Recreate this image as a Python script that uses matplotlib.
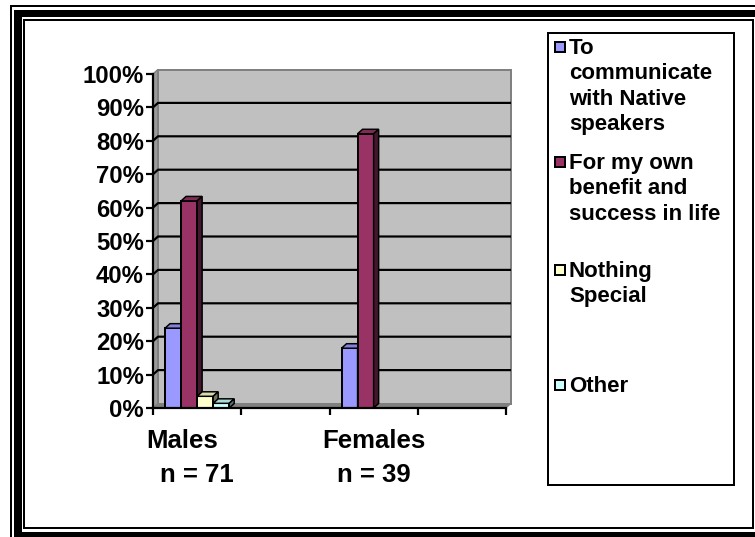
import numpy as np
import matplotlib
matplotlib.use("Agg")
import matplotlib.pyplot as plt
from matplotlib.patches import Rectangle, Polygon

# ---- data -------------------------------------------------------------
categories = ["Males", "", "Females", ""]
sample_sizes = ["n = 71", "", "n = 39", ""]

series_names = [
    "To\ncommunicate\nwith Native\nspeakers",
    "For my own\nbenefit and\nsuccess in life",
    "Nothing\nSpecial",
    "Other",
]
communicate = [0.239, np.nan, 0.179, np.nan]
own_benefit = [0.620, np.nan, 0.821, np.nan]
nothing_special = [0.035, np.nan, np.nan, np.nan]
other = [0.014, np.nan, np.nan, np.nan]
series_values = [communicate, own_benefit, nothing_special, other]

y_ticks = [i / 10 for i in range(11)]
y_tick_labels = [f"{i * 10}%" for i in range(11)]

# ---- styling ----------------------------------------------------------
W, H = 755, 537
DPI = 100
FONT = "Liberation Sans"
face_colors = ["#9999FF", "#993366", "#FFFFCC", "#CCFFFF"]


def shade(hex_color, f):
    rgb = np.array(matplotlib.colors.to_rgb(hex_color))
    return tuple(np.clip(rgb * f, 0, 1))


def px(v):  # pixels -> points
    return v * 72 / DPI


fig = plt.figure(figsize=(W / DPI, H / DPI), dpi=DPI, facecolor="white")

# background canvas in pixel coordinates for the frame and legend
bg = fig.add_axes([0, 0, 1, 1], zorder=0)
bg.set_xlim(0, W)
bg.set_ylim(H, 0)
bg.axis("off")

# double border: thin outer line, thick band, thin inner line
bg.plot([11, 11, W + 5], [H + 5, 6, 6], color="black", lw=px(2), solid_joinstyle="miter")
bg.add_patch(Rectangle((14, 10), 8, H, color="black", lw=0))
bg.add_patch(Rectangle((14, 10), W, 7, color="black", lw=0))
bg.add_patch(Rectangle((14, 532), W, 10, color="black", lw=0))
bg.add_patch(Rectangle((24, 20), 729, 508, fill=False, ec="black", lw=px(2)))

# ---- plot area (front plane of the 3-D chart) --------------------------
left_px, right_px, bottom_px, top_px = 153, 506, 408, 74
ax = fig.add_axes([left_px / W, 1 - bottom_px / H,
                   (right_px - left_px) / W, (bottom_px - top_px) / H], zorder=2)
n_cat = len(categories)
ax.set_xlim(0, n_cat)
ax.set_ylim(0, 1)
ax.patch.set_visible(False)

# depth offset of walls and columns (in data units)
depth_px = (5, 4.5)
dx = depth_px[0] / (right_px - left_px) * n_cat
dy = depth_px[1] / (bottom_px - top_px)

# walls and floor
ax.add_patch(Polygon([(0, 0), (dx, dy), (dx, 1 + dy), (0, 1)], closed=True,
                     fc="#9A9A9A", ec="#808080", lw=px(1.5), clip_on=False, zorder=0.5))
ax.add_patch(Rectangle((dx, dy), n_cat, 1, fc="#C0C0C0", ec="#808080",
                       lw=px(2), clip_on=False, zorder=0.6))
ax.add_patch(Polygon([(0, 0), (n_cat, 0), (n_cat + dx, dy), (dx, dy)], closed=True,
                     fc="#808080", ec="#808080", lw=px(1), clip_on=False, zorder=0.7))

# gridlines on side and back walls
for yv in y_ticks[1:-1]:
    ax.plot([0, dx, n_cat + dx], [yv, yv + dy, yv + dy], color="black",
            lw=px(2.2), clip_on=False, zorder=0.8, solid_capstyle="butt")

# columns
n_ser = len(series_values)
bar_w = 16 / 88
z = 1.0
for ci in range(n_cat):
    for si, vals in enumerate(series_values):
        v = vals[ci]
        if np.isnan(v):
            continue
        x0 = ci + 0.5 - n_ser * bar_w / 2 + si * bar_w
        bars = ax.bar(x0, v, width=bar_w, align="edge", color=face_colors[si],
                      edgecolor="black", lw=px(2), zorder=z, clip_on=False)
        r = bars.patches[0]
        bx, bwid, bh = r.get_x(), r.get_width(), r.get_height()
        x1 = bx + bwid
        ax.add_patch(Polygon([(bx, bh), (bx + dx, bh + dy), (x1 + dx, bh + dy), (x1, bh)],
                             closed=True, fc=shade(face_colors[si], 0.85), ec="black",
                             lw=px(1.5), zorder=z + 0.1, clip_on=False))
        ax.add_patch(Polygon([(x1, 0), (x1 + dx, dy), (x1 + dx, bh + dy), (x1, bh)],
                             closed=True, fc=shade(face_colors[si], 0.45), ec="black",
                             lw=px(1.5), zorder=z + 0.2, clip_on=False))
        z += 0.3

# axes lines and ticks
for s in ["top", "right"]:
    ax.spines[s].set_visible(False)
for s in ["left", "bottom"]:
    ax.spines[s].set_linewidth(px(2.2))
    ax.spines[s].set_color("black")
    ax.spines[s].set_zorder(50)
ax.set_yticks(y_ticks)
ax.set_yticklabels(y_tick_labels, fontfamily=FONT, fontweight="bold", fontsize=17.2)
ax.set_xticks(range(n_cat + 1))
ax.set_xticklabels([])
ax.tick_params(axis="both", direction="out", length=px(7), width=px(2.2), color="black")
ax.tick_params(axis="y", pad=px(2))

# category labels with sample sizes
cat_offsets = [-15, 0, 0, 0]
for ci, (name, nlab) in enumerate(zip(categories, sample_sizes)):
    if not name:
        continue
    ax.annotate(name, xy=(ci + 0.5, 0), xycoords=("data", "axes fraction"),
                xytext=(px(cat_offsets[ci]), -px(33)), textcoords="offset points",
                ha="center", va="center", fontfamily=FONT, fontweight="bold", fontsize=18.5)
    ax.annotate(nlab, xy=(ci + 0.5, 0), xycoords=("data", "axes fraction"),
                xytext=(0, -px(67)), textcoords="offset points",
                ha="center", va="center", fontfamily=FONT, fontweight="bold", fontsize=18.5)

# ---- legend -----------------------------------------------------------
bg.add_patch(Rectangle((549, 34), 186, 452, fc="black", lw=0, zorder=1))
bg.add_patch(Rectangle((548, 33), 186, 452, fc="white", ec="black", lw=px(2), zorder=2))
entry_y = [47, 162, 270, 385]
for name, col, yy in zip(series_names, face_colors, entry_y):
    bg.add_patch(Rectangle((555, yy - 5), 10, 10, fc=col, ec="black", lw=px(2), zorder=3))
    bg.text(569, yy - 9, name, ha="left", va="top", fontfamily=FONT, fontweight="bold",
            fontsize=16, linespacing=1.27, zorder=3)

fig.savefig("out.png", dpi=DPI, facecolor="white")
